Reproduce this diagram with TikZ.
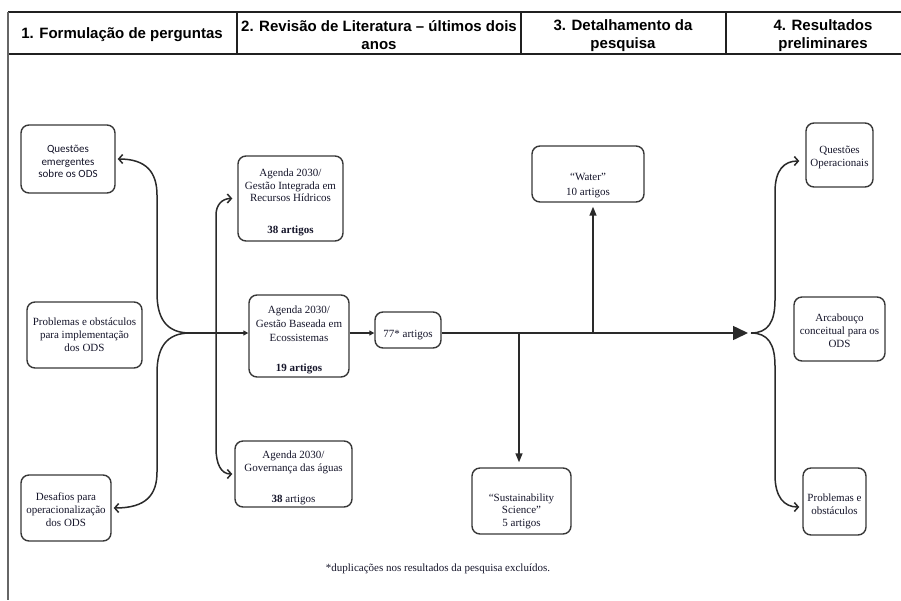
\documentclass[tikz,border=0pt]{standalone}
\usepackage{fontspec}
\setmainfont{Liberation Serif}
\newfontfamily\hdrfont{Liberation Sans}
\newfontfamily\califont{Carlito}
\usetikzlibrary{arrows.meta}
\definecolor{ln}{HTML}{2A2A2A}
\definecolor{bx}{HTML}{383838}
\definecolor{tx}{HTML}{15152A}
\definecolor{fr}{HTML}{202020}
\newcommand{\uplift}[1]{\rule{0pt}{#1}}
\tikzset{
  bb/.tip={Straight Barb[length=4pt,width=9pt]},
  tri/.tip={Triangle[length=5pt,width=5pt]},
  tritwo/.tip={Triangle[length=9pt,width=7pt]},
  bigtri/.tip={Triangle[length=15pt,width=14pt]},
  box/.style={draw=bx, line width=1.4pt, rounded corners=8pt, fill=white, inner sep=0pt,
    align=center, text=tx, font=\fontsize{11}{13}\selectfont},
  conn/.style={draw=ln, line width=1.5pt},
  hdr/.style={font=\hdrfont\bfseries\fontsize{15}{18}\selectfont, align=center, inner sep=0pt, text=black},
  frame/.style={draw=fr, line width=1.3pt}
}
\begin{document}
\begin{tikzpicture}[x=1pt,y=-1pt]
\useasboundingbox (0,0) rectangle (901,600);
% header frame
\draw[frame] (8,12) -- (901,12);
\draw[frame] (8,54) -- (901,54);
\draw[frame] (237,12) -- (237,54);
\draw[frame] (521,12) -- (521,54);
\draw[frame] (726,12) -- (726,54);
\draw[draw=gray!80!black, line width=1.8pt] (8,12) -- (8,600);
\node[hdr] (h1) at (122,35) {1. Formulação de perguntas};
\node[hdr] (h2) at (379,35.5) {2. Revisão de Literatura – últimos dois\\anos};
\node[hdr] (h3) at (623,35.5) {3. Detalhamento da\\pesquisa};
\node[hdr] (h4) at (823,35.5) {4. Resultados\\preliminares};
% boxes
\node[box, minimum width=94pt, minimum height=68pt, font=\califont\fontsize{11}{12.5}\selectfont] (q1) at (68,159) {\uplift{13pt}Questões\\emergentes\\sobre os ODS};
\node[box, minimum width=115pt, minimum height=66pt] (p1) at (84.5,335) {Problemas e obstáculos\\para implementação\\dos ODS};
\node[box, minimum width=90pt, minimum height=66pt] (d1) at (66,508) {\uplift{12pt}Desafios para\\operacionalização\\dos ODS};
\node[box, minimum width=105pt, minimum height=85pt, font=\fontsize{11}{12.5}\selectfont] (gi) at (290.5,198.5) {\uplift{15pt}Agenda 2030/\\Gestão Integrada em\\Recursos Hídricos\\[19pt]\textbf{38 artigos}};
\node[box, minimum width=100pt, minimum height=82pt, font=\fontsize{11}{14}\selectfont] (ge) at (299,336) {\uplift{15pt}Agenda 2030/\\Gestão Baseada em\\Ecossistemas\\[16pt]\textbf{19 artigos}};
\node[box, minimum width=117pt, minimum height=66pt] (go) at (293.5,474) {\uplift{15pt}Agenda 2030/\\Governança das águas\\[18pt]\textbf{38} artigos};
\node[box, minimum width=66pt, minimum height=36pt] (a77) at (408,330) {\uplift{17pt}77* artigos};
\node[box, minimum width=112pt, minimum height=56pt, font=\fontsize{11}{14.5}\selectfont] (wa) at (588,174) {\strut\\[6pt]“Water”\\10 artigos};
\node[box, minimum width=99pt, minimum height=66pt, font=\fontsize{11}{12.5}\selectfont] (ss) at (521.5,501) {\strut\\[7pt]“Sustainability\\Science”\\5 artigos};
\node[box, minimum width=67pt, minimum height=64pt] (qo) at (839.5,155) {\uplift{13pt}Questões\\Operacionais};
\node[box, minimum width=91pt, minimum height=64pt] (ar) at (839.5,329) {\uplift{12pt}Arcabouço\\conceitual para os\\ODS};
\node[box, minimum width=63pt, minimum height=67pt] (pe) at (834.5,501.5) {\uplift{14pt}Problemas e\\obstáculos};
% connectors left
\coordinate (j1) at (190,333);
\draw[conn,-bb] (j1) .. controls (166,333) and (157,318) .. (157,293) -- (157,195)
  .. controls (157,172) and (146,159) .. ([xshift=2pt]q1.east);
\draw[conn,-bb] (j1) .. controls (166,333) and (157,348) .. (157,373) -- (157,472)
  .. controls (157,495) and (146,508) .. ([xshift=2pt]d1.east);
\draw[conn,-tri] (j1) -- (j1 -| ge.west);
\draw[conn,bb-bb] ([xshift=-5pt]gi.west) .. controls (222,198.5) and (216,205) .. (216,215)
  -- (216,448) .. controls (216,464) and (221,474) .. ([xshift=-2pt]go.west);
% main line
\coordinate (j2) at (748,333);
\coordinate (j3) at (751,333);
\coordinate (b1) at (519,333);
\coordinate (b2) at (593,333);
\draw[conn,-tri] (j1 -| ge.east) -- (j1 -| a77.west);
\draw[conn,-bigtri] (j1 -| a77.east) -- (j2);
\draw[conn,-tritwo,shorten >=5pt] (b1) -- (b1 |- ss.north);
\draw[conn,-tritwo,shorten >=4pt] (b2) -- (b2 |- wa.south);
% right branches
\draw[conn,-bb] (j3) .. controls (768,333) and (775,322) .. (775,300) -- (775,192)
  .. controls (775,170) and (784,161) .. ([xshift=-6pt,yshift=-6pt]qo.west);
\draw[conn,-bb] (j3) .. controls (768,333) and (775,344) .. (775,366) -- (775,475)
  .. controls (775,497) and (784,507) .. ([xshift=-3pt,yshift=-5.5pt]pe.west);
% footnote
\node[font=\fontsize{11}{13}\selectfont, text=tx, inner sep=0pt] (fn) at (438,569) {*duplicações nos resultados da pesquisa excluídos.};
\end{tikzpicture}
\end{document}
